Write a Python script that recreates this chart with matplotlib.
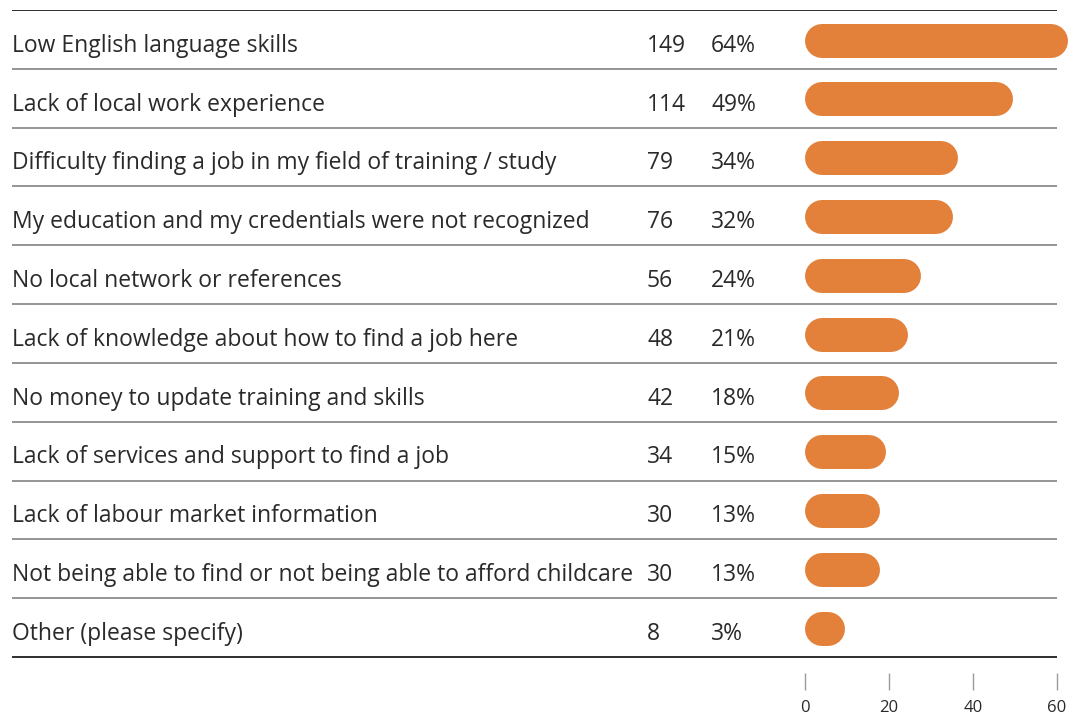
import matplotlib.pyplot as plt

labels = [
    "Low English language skills",
    "Lack of local work experience",
    "Difficulty finding a job in my field of training / study",
    "My education and my credentials were not recognized",
    "No local network or references",
    "Lack of knowledge about how to find a job here",
    "No money to update training and skills",
    "Lack of services and support to find a job",
    "Lack of labour market information",
    "Not being able to find or not being able to afford childcare",
    "Other (please specify)",
]
counts = [149, 114, 79, 76, 56, 48, 42, 34, 30, 30, 8]
percents = [64, 49, 34, 32, 24, 21, 18, 15, 13, 13, 3]
ticks = [0, 20, 40, 60]

W, H, DPI = 1068, 715, 100
ORANGE = "#E3803A"
TEXT = "#2a2a2a"
FONT = "Open Sans"
FS = 16.5

fig = plt.figure(figsize=(W / DPI, H / DPI), dpi=DPI)

# vertical layout in pixels
top_px, rows_bottom_px, axis_px = 10, 657, 690
row_h = (rows_bottom_px - top_px) / len(labels)
n_rows = (axis_px - top_px) / row_h
b = (H - axis_px) / H
h = (axis_px - top_px) / H

# table axes (x in pixels)
ax = fig.add_axes([0, b, 1, h])
ax.set_xlim(0, W)
ax.set_ylim(n_rows, 0)
ax.axis("off")

n = len(labels)
for i in range(n + 1):
    col = "#1e1e1e" if i in (0, n) else "#8c8c8c"
    ax.hlines(i, 12, 1057, color=col, lw=1.3)

for i, (lab, c, p) in enumerate(zip(labels, counts, percents)):
    y = i + 0.71
    ax.text(12, y, lab, fontsize=FS, family=FONT, color=TEXT, va="baseline")
    ax.text(647, y, str(c), fontsize=FS, family=FONT, color=TEXT, va="baseline")
    ax.text(711, y, f"{p}%", fontsize=FS, family=FONT, color=TEXT, va="baseline")

# bar axes (x in tick units, 4.2 px per unit)
px_per_unit = 4.2
x0 = 805
bx = fig.add_axes([x0 / W, b, (W - x0) / W, h])
bx.set_xlim(0, (W - x0) / px_per_unit)
bx.set_ylim(n_rows, 0)
bx.patch.set_alpha(0)
for s in bx.spines.values():
    s.set_visible(False)

bar_px = 34
r = bar_px / 2 / px_per_unit
lw = bar_px * 72 / DPI
for i, c in enumerate(counts):
    length = (27.3 + 1.585 * c) / px_per_unit
    end = r + max(length - 2 * r, 0.05)
    bx.plot([r, end], [i + 0.52, i + 0.52], color=ORANGE, lw=lw,
            solid_capstyle="round")

bx.set_yticks([])
bx.set_xticks(ticks)
bx.set_xticklabels([str(t) for t in ticks], family=FONT, fontsize=12, color=TEXT)
bx.tick_params(axis="x", direction="in", length=12, width=1, color="#9a9a9a", pad=7)
for t in bx.get_xticklabels():
    t.set_clip_on(False)

fig.savefig("out.png", dpi=DPI)
